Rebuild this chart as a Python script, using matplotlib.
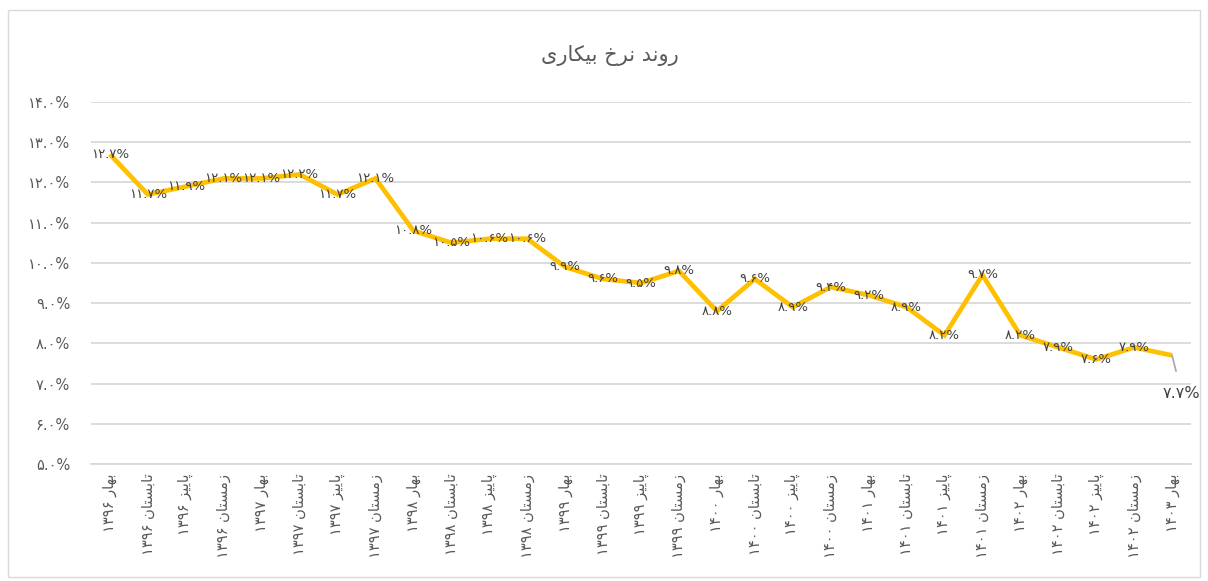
import matplotlib
matplotlib.use("Agg")
import matplotlib.pyplot as plt
from matplotlib.patches import Rectangle

# داده ها
years = ["1396"] * 4 + ["1397"] * 4 + ["1398"] * 4 + ["1399"] * 4 + \
        ["1400"] * 4 + ["1401"] * 4 + ["1402"] * 4 + ["1403"]
seasons = ["بهار", "تابستان", "پاییز", "زمستان"] * 7 + ["بهار"]
rates = [12.7, 11.7, 11.9, 12.1,
         12.1, 12.2, 11.7, 12.1,
         10.8, 10.5, 10.6, 10.6,
         9.9, 9.6, 9.5, 9.8,
         8.8, 9.6, 8.9, 9.4,
         9.2, 8.9, 8.2, 9.7,
         8.2, 7.9, 7.6, 7.9,
         7.7]
y_ticks = [5, 6, 7, 8, 9, 10, 11, 12, 13, 14]
title = "روند نرخ بیکاری"

# شکل دهی ساده حروف فارسی (matplotlib خودش این کار را نمی کند)
FORMS = {
    'ا': ('\uFE8D', '\uFE8E', None, None),
    'د': ('\uFEA9', '\uFEAA', None, None),
    'ر': ('\uFEAD', '\uFEAE', None, None),
    'ز': ('\uFEAF', '\uFEB0', None, None),
    'و': ('\uFEED', '\uFEEE', None, None),
    'ب': ('\uFE8F', '\uFE90', '\uFE91', '\uFE92'),
    'پ': ('\uFB56', '\uFB57', '\uFB58', '\uFB59'),
    'ت': ('\uFE95', '\uFE96', '\uFE97', '\uFE98'),
    'خ': ('\uFEA5', '\uFEA6', '\uFEA7', '\uFEA8'),
    'س': ('\uFEB1', '\uFEB2', '\uFEB3', '\uFEB4'),
    'ک': ('\uFB8E', '\uFB8F', '\uFB90', '\uFB91'),
    'م': ('\uFEE1', '\uFEE2', '\uFEE3', '\uFEE4'),
    'ن': ('\uFEE5', '\uFEE6', '\uFEE7', '\uFEE8'),
    'ه': ('\uFEE9', '\uFEEA', '\uFEEB', '\uFEEC'),
    'ی': ('\uFEEF', '\uFEF0', '\uFEF3', '\uFEF4'),
}


def shape(text):
    out = []
    for i, c in enumerate(text):
        if c not in FORMS:
            out.append(c)
            continue
        prev = text[i - 1] if i > 0 else None
        nxt = text[i + 1] if i + 1 < len(text) else None
        jp = prev in FORMS and FORMS[prev][2] is not None
        jn = nxt in FORMS and FORMS[c][2] is not None
        iso, fin, ini, med = FORMS[c]
        if jp and jn:
            out.append(med)
        elif jp:
            out.append(fin)
        elif jn:
            out.append(ini)
        else:
            out.append(iso)
    return ''.join(reversed(out))


def fa(s):
    return s.translate(str.maketrans("0123456789", "۰۱۲۳۴۵۶۷۸۹"))


plt.rcParams['font.family'] = ['DejaVu Sans']
gray = "#595959"

fig = plt.figure(figsize=(12.08, 5.81), dpi=100)
fig.patches.append(Rectangle((8 / 1208, 4 / 581), 1192 / 1208, 567 / 581,
                             transform=fig.transFigure, fill=False,
                             edgecolor="#d9d9d9", linewidth=1))
ax = fig.add_axes([0.0753, 0.2014, 0.9107, 0.623])

x = list(range(len(rates)))
ax.plot(x, rates, color="#FFC000", linewidth=3.4, solid_joinstyle="miter",
        solid_capstyle="butt", zorder=3)

for i, v in enumerate(rates[:-1]):
    ax.text(i, v, fa(f"{v:.1f}%"), ha="center", va="center", fontsize=9.5,
            color="#404040", zorder=4)

# آخرین برچسب با خط راهنما
last = len(rates) - 1
ax.annotate(fa(f"{rates[-1]:.1f}%"), xy=(last, rates[-1]),
            xytext=(last + 0.25, rates[-1] - 0.95), ha="center", va="center",
            fontsize=11.5, color="#404040",
            arrowprops=dict(arrowstyle="-", color="#a6a6a6", lw=1.2,
                            shrinkA=9, shrinkB=0))

ax.set_xlim(-0.5, len(rates) - 0.5)
ax.set_ylim(5, 14)
ax.set_yticks(y_ticks)
ax.set_yticklabels([fa(f"{t:.1f}%") for t in y_ticks], color=gray, fontsize=10.5)
ax.set_xticks(x)
ax.set_xticklabels([fa(y) + " " + shape(s) for y, s in zip(years, seasons)],
                   rotation=90, color=gray, fontsize=10.5)
ax.tick_params(length=0)
ax.tick_params(axis="y", pad=15)
ax.tick_params(axis="x", pad=7)
ax.grid(axis="y", color="#d9d9d9", linewidth=1.3)
ax.set_axisbelow(True)
for s in ["top", "right", "left"]:
    ax.spines[s].set_visible(False)
ax.spines["bottom"].set_color("#d9d9d9")
ax.spines["bottom"].set_linewidth(1.3)

fig.text(0.505, 0.905, shape(title), ha="center", va="center", fontsize=15,
         color=gray)

fig.savefig("out.png", dpi=100)
